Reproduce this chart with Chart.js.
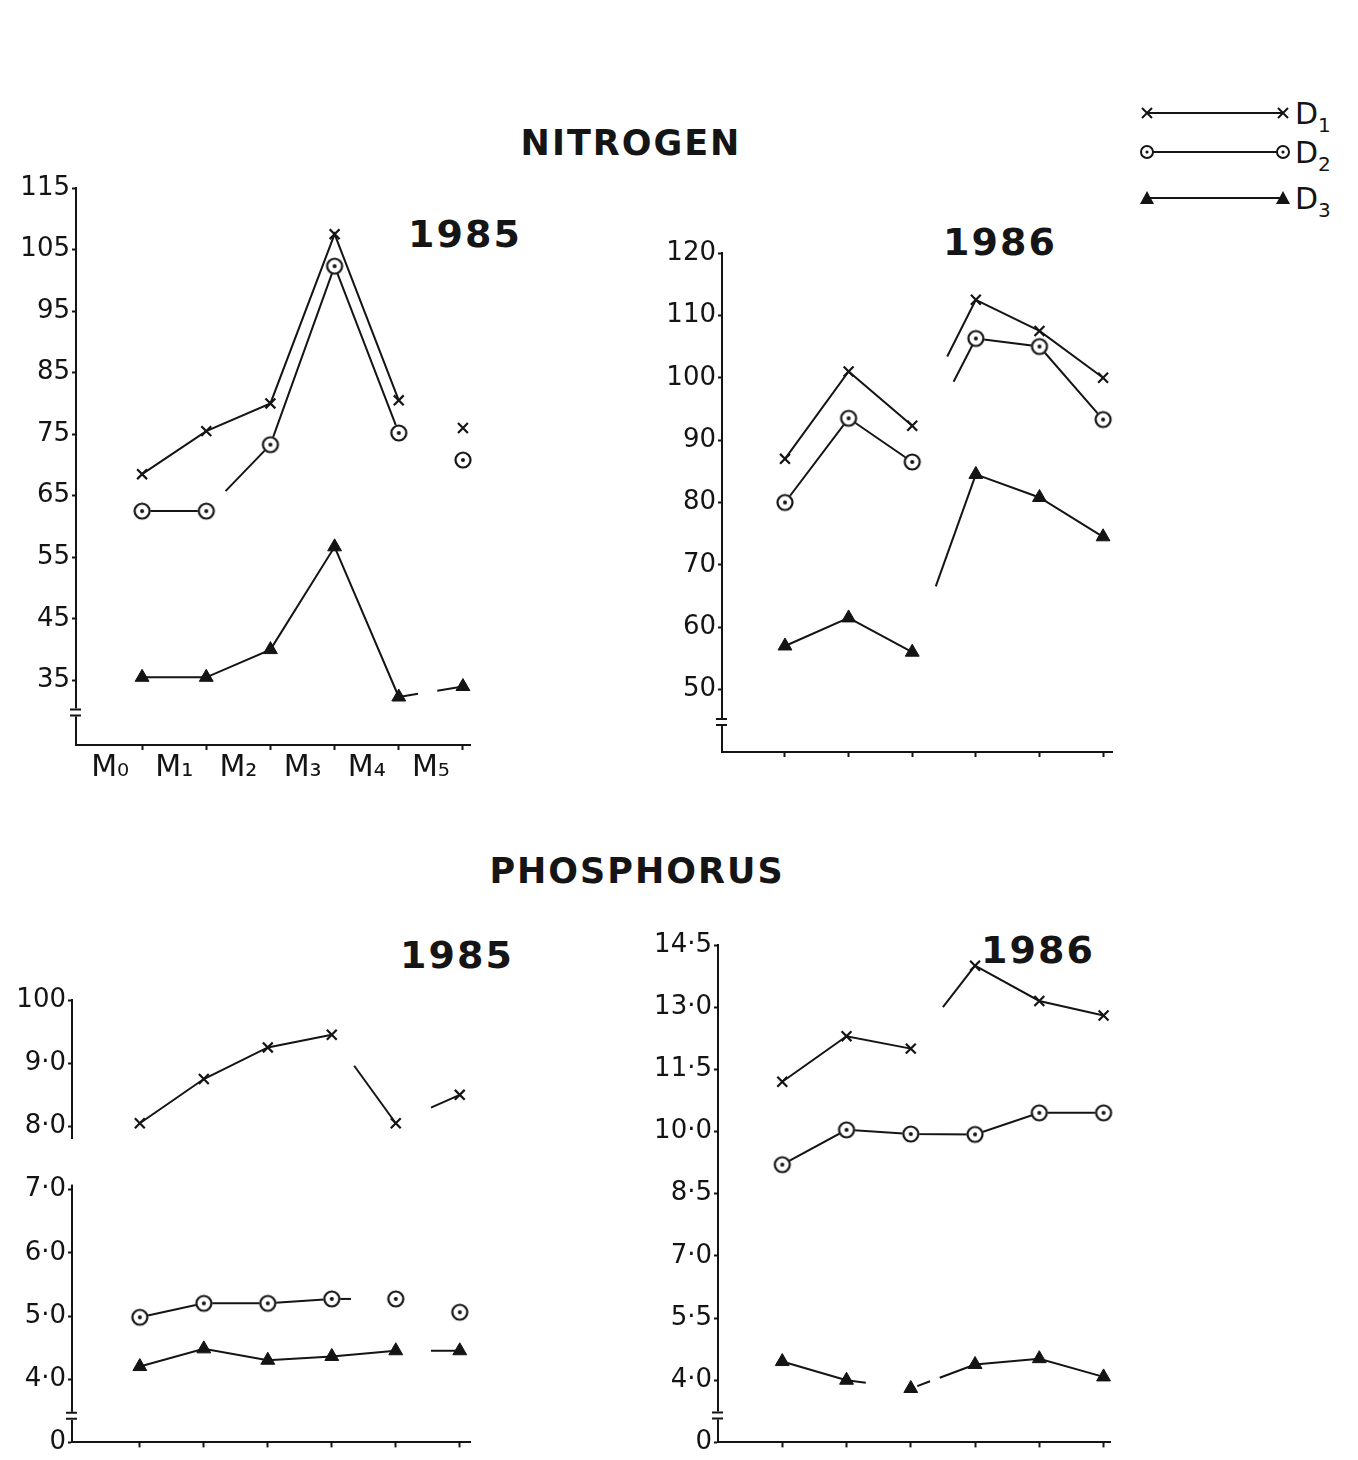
<!DOCTYPE html>
<html><head><meta charset="utf-8">
<script src="https://cdn.jsdelivr.net/npm/chart.js@4.4.1/dist/chart.umd.min.js"></script>
<style>
html,body{margin:0;padding:0;background:#fff;}
body{width:1358px;height:1460px;position:relative;overflow:hidden;font-family:'DejaVu Sans',sans-serif;color:#111;}
.t{position:absolute;transform:translate(-50%,-50%);white-space:nowrap;font-weight:bold;color:#151515;}
canvas{position:absolute;}
#legend{position:absolute;left:1130px;top:90px;}
</style></head><body>
<div class="t" style="left:631px;top:143px;font-size:35px;letter-spacing:2px">NITROGEN</div>
<div class="t" style="left:637px;top:871px;font-size:35px;letter-spacing:2px">PHOSPHORUS</div>
<div class="t" style="left:465px;top:234px;font-size:38px;letter-spacing:2px">1985</div>
<div class="t" style="left:1000px;top:242px;font-size:38px;letter-spacing:2px">1986</div>
<div class="t" style="left:457px;top:955px;font-size:38px;letter-spacing:2px">1985</div>
<div class="t" style="left:1038px;top:950px;font-size:38px;letter-spacing:2px">1986</div>
<svg id="legend" width="228" height="140"></svg>
<canvas id="cA" width="500" height="640" style="left:0;top:160px"></canvas>
<canvas id="cB" width="500" height="540" style="left:630px;top:230px"></canvas>
<canvas id="cC" width="500" height="480" style="left:0;top:980px"></canvas>
<canvas id="cD" width="500" height="535" style="left:630px;top:925px"></canvas>
<script>
// ---------- data ----------
const months = ['M₀','M₁','M₂','M₃','M₄','M₅'];
const seriesNames = ['D₁','D₂','D₃'];

const nitrogen1985_D1 = [68.5, 75.5, 80.0, 107.5, 80.5, 76.0];
const nitrogen1985_D2 = [62.5, 62.5, 73.3, 102.3, 75.2, 70.8];
const nitrogen1985_D3 = [35.5, 35.5, 40.0, 56.7, 32.3, 34.0];

const nitrogen1986_D1 = [87.0, 101.0, 92.3, 112.5, 107.5, 100.0];
const nitrogen1986_D2 = [80.0, 93.5, 86.5, 106.3, 105.0, 93.3];
const nitrogen1986_D3 = [57.0, 61.5, 56.0, 84.5, 80.8, 74.5];

const phosphorus1985_D1 = [8.05, 8.75, 9.25, 9.45, 8.05, 8.5];
const phosphorus1985_D2 = [4.98, 5.2, 5.2, 5.27, 5.27, 5.06];
const phosphorus1985_D3 = [4.2, 4.48, 4.3, 4.36, 4.45, 4.45];

const phosphorus1986_D1 = [11.2, 12.3, 12.0, 14.0, 13.15, 12.8];
const phosphorus1986_D2 = [9.2, 10.04, 9.94, 9.93, 10.45, 10.45];
const phosphorus1986_D3 = [4.45, 4.0, 3.8, 4.38, 4.52, 4.08];

const nitrogen1985_tickValues = [115, 105, 95, 85, 75, 65, 55, 45, 35];
const nitrogen1985_tickLabels = ['115', '105', '95', '85', '75', '65', '55', '45', '35'];
const nitrogen1986_tickValues = [120, 110, 100, 90, 80, 70, 60, 50];
const nitrogen1986_tickLabels = ['120', '110', '100', '90', '80', '70', '60', '50'];
const phosphorus1985_tickValues = [10, 9, 8, 7, 6, 5, 4, 3];
const phosphorus1985_tickLabels = ['100', '9·0', '8·0', '7·0', '6·0', '5·0', '4·0', '0'];
const phosphorus1986_tickValues = [14.5, 13, 11.5, 10, 8.5, 7, 5.5, 4, 2.5];
const phosphorus1986_tickLabels = ['14·5', '13·0', '11·5', '10·0', '8·5', '7·0', '5·5', '4·0', '0'];

// ---------- styles ----------
const INK = '#141414';
Chart.defaults.font.family = "'DejaVu Sans', sans-serif";
Chart.defaults.color = INK;
Chart.defaults.animation = false;

function ringDot(){
  const c = document.createElement('canvas'); c.width = 20; c.height = 20;
  const g = c.getContext('2d');
  g.fillStyle = '#fff'; g.beginPath(); g.arc(10,10,8.5,0,Math.PI*2); g.fill();
  g.strokeStyle = INK; g.lineWidth = 2.2; g.beginPath(); g.arc(10,10,7.5,0,Math.PI*2); g.stroke();
  g.fillStyle = INK; g.beginPath(); g.arc(10,10,2,0,Math.PI*2); g.fill();
  return c;
}
const RING = ringDot();

// visible portions of scanned (faded) segments: {segmentIndex: [[from,to],...]}
function segStyle(vis){
  return {
    borderDash: ctx => {
      if (!vis || !(ctx.p0DataIndex in vis)) return undefined;
      const L = Math.hypot(ctx.p1.x - ctx.p0.x, ctx.p1.y - ctx.p0.y);
      const parts = vis[ctx.p0DataIndex];
      const pat = [0]; let prev = 0;
      parts.forEach(([a,b]) => { pat.push(Math.max(0,(a-prev)*L)); pat.push(Math.max(0,(b-a)*L)); prev = b; });
      pat.push(3*L);
      return pat;
    }
  };
}

const decoPlugin = {
  id: 'deco',
  afterDraw(chart, args, o){
    const g = chart.ctx, y = chart.scales.y, x0 = chart.chartArea.left;
    g.save();
    if (o.axisGap){
      const a = y.getPixelForValue(o.axisGap[0]), b = y.getPixelForValue(o.axisGap[1]);
      g.fillStyle = '#fff'; g.fillRect(x0-2, a, 5, b-a);
    }
    if (o.breakAt !== undefined){
      const p = y.getPixelForValue(o.breakAt);
      g.fillStyle = '#fff'; g.fillRect(x0-2, p-4, 5, 8);
      g.strokeStyle = INK; g.lineWidth = 2;
      g.beginPath(); g.moveTo(x0-6, p-3); g.lineTo(x0+5, p-3); g.moveTo(x0-6, p+3); g.lineTo(x0+5, p+3); g.stroke();
    }
    g.restore();
  }
};

function makePanel(id, o){
  const pts = arr => arr.map((v,i) => ({x:i, y:v}));
  const base = {borderColor: INK, borderWidth: 2, pointBorderColor: INK, fill:false, tension:0, clip: false};
  const datasets = [
    Object.assign({}, base, {label: seriesNames[0], data: pts(o.series[0]), pointStyle:'crossRot', pointRadius:7, pointBorderWidth:2.2, segment: segStyle(o.vis[0])}),
    Object.assign({}, base, {label: seriesNames[1], data: pts(o.series[1]), pointStyle: RING, pointRadius:9, segment: segStyle(o.vis[1])}),
    Object.assign({}, base, {label: seriesNames[2], data: pts(o.series[2]), pointStyle:'triangle', pointRadius:8, pointBackgroundColor: INK, pointBorderWidth:1, segment: segStyle(o.vis[2])})
  ];
  new Chart(document.getElementById(id), {
    type: 'line',
    data: {datasets},
    plugins: [decoPlugin],
    options: {
      responsive: false,
      layout: {padding: {top: o.padTop, right: o.padRight, left: 0, bottom: 0}},
      plugins: {legend: {display:false}, tooltip: {enabled:false}, deco: {breakAt: o.breakAt, axisGap: o.axisGap}},
      scales: {
        x: {
          type: 'linear', min: o.xMin, max: o.xMax,
          afterBuildTicks: s => { s.ticks = months.map((m,i) => ({value:i})); },
          afterFit: s => { s.height = o.xH; },
          ticks: {autoSkip:false, maxRotation:0, padding: 0, labelOffset: o.labelOffset || 0,
                  font: {size: 30}, color: INK,
                  callback: v => o.showX ? months[v] : ''},
          grid: {drawOnChartArea:false, tickLength: 5, tickWidth: 2, color: INK},
          border: {color: INK, width: 2}
        },
        y: {
          type: 'linear', min: o.yMin, max: o.yMax,
          afterBuildTicks: s => { s.ticks = o.tickValues.map(v => ({value:v})); },
          afterFit: s => { s.width = o.yW; },
          ticks: {autoSkip:false, padding: 2, font: {size: 26}, color: INK,
                  callback: v => { const k = o.tickValues.indexOf(v); return k >= 0 ? o.tickLabels[k] : ''; }},
          grid: {drawOnChartArea:false, tickLength: 4, tickWidth: 2, color: INK},
          border: {color: INK, width: 2}
        }
      }
    }
  });
}

makePanel('cA', {
  series: [nitrogen1985_D1, nitrogen1985_D2, nitrogen1985_D3],
  vis: [{4: []}, {1: [[0.3,1]], 4: []}, {4: [[0,0.3],[0.6,1]]}],
  tickValues: nitrogen1985_tickValues, tickLabels: nitrogen1985_tickLabels,
  yMin: 24.5, yMax: 115, xMin: -1.03, xMax: 5.11,
  yW: 76, xH: 55, padTop: 28, padRight: 30, showX: true, labelOffset: -32, breakAt: 29.8
});
makePanel('cB', {
  series: [nitrogen1986_D1, nitrogen1986_D2, nitrogen1986_D3],
  vis: [{2: [[0.55,1]]}, {2: [[0.65,1]]}, {2: [[0.37,1]]}],
  tickValues: nitrogen1986_tickValues, tickLabels: nitrogen1986_tickLabels,
  yMin: 40, yMax: 120, xMin: -0.99, xMax: 5.14,
  yW: 92, xH: 18, padTop: 23, padRight: 18, showX: false, breakAt: 44.8
});
makePanel('cC', {
  series: [phosphorus1985_D1, phosphorus1985_D2, phosphorus1985_D3],
  vis: [{3: [[0.35,1]], 4: [[0.55,1]]}, {3: [[0,0.3]], 4: []}, {4: [[0.55,1]]}],
  tickValues: phosphorus1985_tickValues, tickLabels: phosphorus1985_tickLabels,
  yMin: 3, yMax: 10, xMin: -1.06, xMax: 5.16,
  yW: 72, xH: 13, padTop: 20, padRight: 30, showX: false, breakAt: 3.42, axisGap: [7.8, 7.08]
});
makePanel('cD', {
  series: [phosphorus1986_D1, phosphorus1986_D2, phosphorus1986_D3],
  vis: [{2: [[0.5,1]]}, {}, {1: [[0,0.3]], 2: [[0.1,0.3],[0.45,1]]}],
  tickValues: phosphorus1986_tickValues, tickLabels: phosphorus1986_tickLabels,
  yMin: 2.5, yMax: 14.5, xMin: -1.0, xMax: 5.1,
  yW: 88, xH: 13, padTop: 20, padRight: 20, showX: false, breakAt: 3.15
});

// ---------- legend ----------
(function(){
  const svg = document.getElementById('legend');
  const rows = [23, 62, 108];   // relative to legend box top (90px)
  const x1 = 17, x2 = 153;
  let html = '';
  rows.forEach((y, i) => {
    html += `<line x1="${x1}" y1="${y}" x2="${x2}" y2="${y}" stroke="${INK}" stroke-width="2"/>`;
    [x1, x2].forEach(x => {
      if (i === 0) html += `<path d="M${x-5},${y-5}L${x+5},${y+5}M${x-5},${y+5}L${x+5},${y-5}" stroke="${INK}" stroke-width="2"/>`;
      if (i === 1) html += `<circle cx="${x}" cy="${y}" r="6" fill="#fff" stroke="${INK}" stroke-width="2"/><circle cx="${x}" cy="${y}" r="1.6" fill="${INK}"/>`;
      if (i === 2) html += `<path d="M${x-7},${y+6}L${x},${y-7}L${x+7},${y+6}Z" fill="${INK}"/>`;
    });
    html += `<text x="${x2+12}" y="${y+11}" font-family="DejaVu Sans" font-size="30" fill="${INK}">D<tspan font-size="20" dy="8">${i+1}</tspan></text>`;
  });
  svg.innerHTML = html;
})();
</script>
</body></html>
